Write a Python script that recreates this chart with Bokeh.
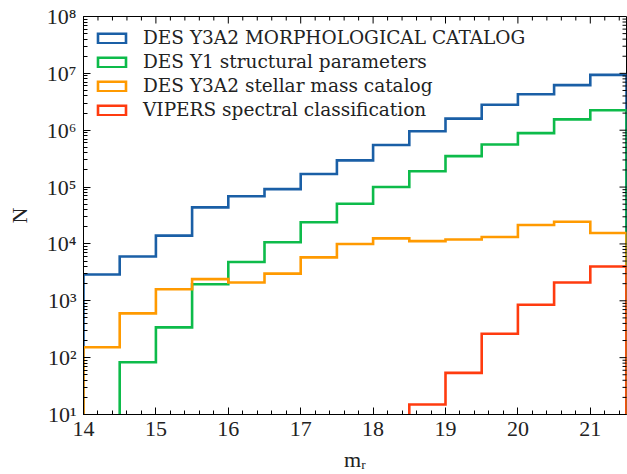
import math
from bokeh.plotting import figure
from bokeh.models import FixedTicker, Range1d, Legend, LegendItem
from bokeh.embed import file_html
from bokeh.resources import INLINE

# ---- data ----
edges = [14.0, 14.5, 15.0, 15.5, 16.0, 16.5, 17.0, 17.5, 18.0, 18.5,
         19.0, 19.5, 20.0, 20.5, 21.0, 21.5]
morph = [2900, 6000, 14000, 44000, 69000, 92000, 170000, 295000, 550000,
         960000, 1.6e6, 2.8e6, 4.3e6, 6.2e6, 9.4e6]
y1struct = [0, 83, 340, 1950, 4800, 10700, 24000, 51000, 100000, 190000,
            350000, 560000, 890000, 1.55e6, 2.25e6]
stellar = [152, 600, 1600, 2400, 2100, 3000, 5800, 10000, 12500, 11200,
           12000, 13200, 21500, 24500, 15600]
vipers = [0, 0, 0, 0, 0, 0, 0, 0, 0, 15, 54, 263, 850, 2100, 4000]

names = ["DES Y3A2 MORPHOLOGICAL CATALOG", "DES Y1 structural parameters",
         "DES Y3A2 stellar mass catalog", "VIPERS spectral classification"]
series = [morph, y1struct, stellar, vipers]
colors = ["#1a5fa6", "#0dbb4a", "#ff9a00", "#ff3b0f"]

x_ticks = [14, 15, 16, 17, 18, 19, 20, 21]
y_ticks = [10, 100, 1000, 1e4, 1e5, 1e6, 1e7, 1e8]
y_tick_labels = ["10¹", "10²", "10³", "10⁴", "10⁵", "10⁶", "10⁷", "10⁸"]

FONT = "Liberation Serif"
LEGEND_FONT = "DejaVu Serif"
TXT = "#222222"
BASE = 1.0  # below the visible range: step outline drops to zero
XMIN, XMAX, YMIN, YMAX = 14, 21.5, 10, 1e8

p = figure(width=627, height=474, output_backend="svg", toolbar_location=None,
           y_axis_type="log", x_range=Range1d(XMIN, XMAX), y_range=Range1d(YMIN, YMAX),
           min_border_left=83, min_border_right=1, min_border_top=16,
           min_border_bottom=58)
p.xgrid.visible = False
p.ygrid.visible = False
p.outline_line_color = "black"
p.outline_line_width = 1
p.background_fill_color = "white"
p.border_fill_color = "white"


def step_outline(edges, vals):
    xs, ys = [edges[0]], [BASE]
    for i, v in enumerate(vals):
        vv = v if v > 0 else BASE
        xs += [edges[i], edges[i + 1]]
        ys += [vv, vv]
    xs.append(edges[-1])
    ys.append(BASE)
    return xs, ys


items = []
for name, vals, col in zip(names, series, colors):
    xs, ys = step_outline(edges, vals)
    r = p.patch(xs, ys, fill_alpha=0, line_color=col, line_width=2.6,
                line_join="miter")
    items.append(LegendItem(label=name, renderers=[r]))

legend = Legend(items=items, location="top_left", margin=1, padding=10,
                glyph_width=35, glyph_height=12, label_standoff=14, spacing=3,
                label_height=20, label_text_font=LEGEND_FONT,
                label_text_font_size="18.5px",
                label_text_color=TXT, border_line_alpha=0,
                background_fill_alpha=0)
p.add_layout(legend)

minor_x = [t + k * 0.2 for t in x_ticks for k in range(1, 5) if t + k * 0.2 < XMAX]
minor_y = [m * 10 ** k for k in range(1, 8) for m in range(2, 10)]

p.xaxis.ticker = FixedTicker(ticks=x_ticks, minor_ticks=minor_x)
p.yaxis.ticker = FixedTicker(ticks=y_ticks, minor_ticks=minor_y)
p.yaxis.major_label_overrides = {t: l for t, l in zip(y_ticks, y_tick_labels)}
p.xaxis.axis_label = "mᵣ"
p.yaxis.axis_label = "N"
p.xaxis.major_label_standoff = 7
p.xaxis.axis_label_standoff = 8
p.yaxis.major_label_standoff = 7
p.yaxis.axis_label_standoff = 12
for ax in (p.xaxis[0], p.yaxis[0]):
    ax.axis_line_color = "black"
    ax.major_tick_line_color = "black"
    ax.minor_tick_line_color = "black"
    ax.major_tick_in = 7
    ax.major_tick_out = 0
    ax.minor_tick_in = 4
    ax.minor_tick_out = 0
    ax.major_label_text_font = FONT
    ax.major_label_text_font_size = "22px"
    ax.major_label_text_color = TXT
    ax.axis_label_text_font = FONT
    ax.axis_label_text_font_size = "22px"
    ax.axis_label_text_font_style = "normal"
    ax.axis_label_text_color = TXT

# inward ticks on the top and right frame edges (half of each dash is clipped)
p.scatter(x_ticks, [YMAX] * len(x_ticks), marker="dash", size=14, angle=math.pi / 2,
          line_color="black", line_width=1)
p.scatter(minor_x, [YMAX] * len(minor_x), marker="dash", size=8, angle=math.pi / 2,
          line_color="black", line_width=1)
p.scatter([XMAX] * len(y_ticks), y_ticks, marker="dash", size=14,
          line_color="black", line_width=1)
p.scatter([XMAX] * len(minor_y), minor_y, marker="dash", size=8,
          line_color="black", line_width=1)

open("out.html", "w").write(file_html(p, INLINE))
